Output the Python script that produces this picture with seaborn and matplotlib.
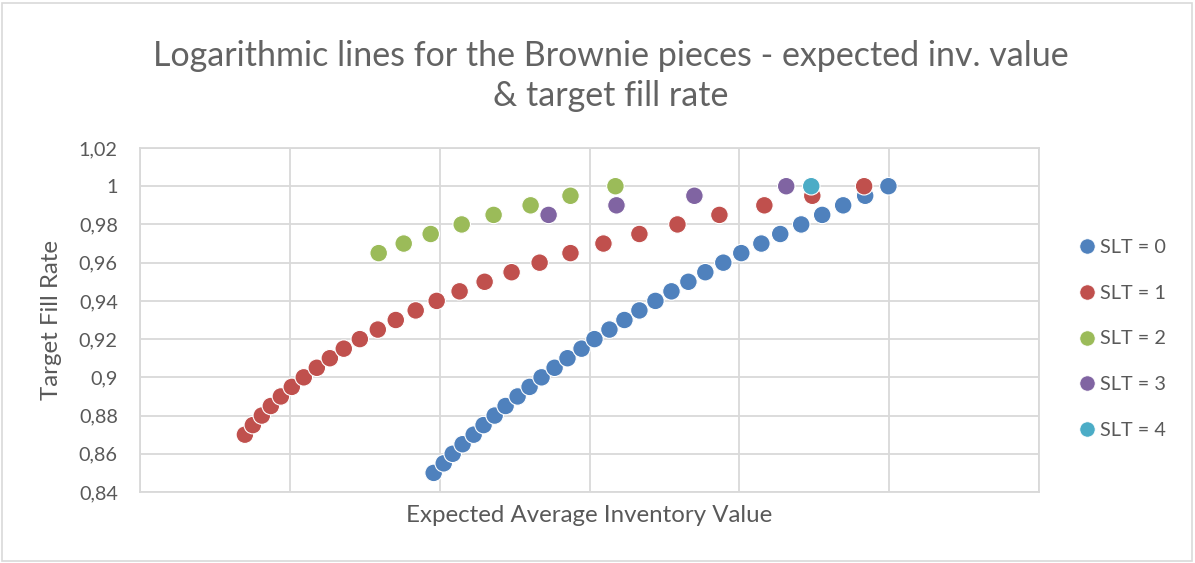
import matplotlib
matplotlib.use("Agg")
import matplotlib.pyplot as plt
from matplotlib.patches import Rectangle
from matplotlib.lines import Line2D
import seaborn as sns
import pandas as pd

# Expected average inventory value (x) and target fill rate (y) per SLT group
slt0_x = [1960, 2027, 2087, 2153, 2227, 2293, 2367, 2440, 2520, 2600, 2680,
          2767, 2853, 2947, 3033, 3133, 3233, 3333, 3440, 3547, 3660, 3773,
          3893, 4013, 4147, 4273, 4413, 4553, 4693, 4840, 4995]
slt0_y = [0.85, 0.855, 0.86, 0.865, 0.87, 0.875, 0.88, 0.885, 0.89, 0.895,
          0.90, 0.905, 0.91, 0.915, 0.92, 0.925, 0.93, 0.935, 0.94, 0.945,
          0.95, 0.955, 0.96, 0.965, 0.97, 0.975, 0.98, 0.985, 0.99, 0.995, 1.0]

slt1_x = [700, 753, 813, 873, 940, 1013, 1093, 1180, 1267, 1360, 1467, 1587,
          1707, 1840, 1980, 2133, 2300, 2480, 2667, 2873, 3093, 3333, 3587,
          3867, 4167, 4487, 4833]
slt1_y = [0.87, 0.875, 0.88, 0.885, 0.89, 0.895, 0.90, 0.905, 0.91, 0.915,
          0.92, 0.925, 0.93, 0.935, 0.94, 0.945, 0.95, 0.955, 0.96, 0.965,
          0.97, 0.975, 0.98, 0.985, 0.99, 0.995, 1.0]

slt2_x = [1593, 1760, 1940, 2147, 2360, 2607, 2873, 3173]
slt2_y = [0.965, 0.97, 0.975, 0.98, 0.985, 0.99, 0.995, 1.0]

slt3_x = [2727, 3180, 3700, 4313]
slt3_y = [0.985, 0.99, 0.995, 1.0]

slt4_x = [4480]
slt4_y = [1.0]

series_names = ["SLT = 0", "SLT = 1", "SLT = 2", "SLT = 3", "SLT = 4"]
series_colors = ["#4F81BD", "#C0504D", "#9BBB59", "#8064A2", "#4BACC6"]

y_ticks = [0.84, 0.86, 0.88, 0.90, 0.92, 0.94, 0.96, 0.98, 1.00, 1.02]
y_tick_labels = ["0,84", "0,86", "0,88", "0,9", "0,92", "0,94", "0,96",
                 "0,98", "1", "1,02"]
x_grid = [0, 1000, 2000, 3000, 4000, 5000, 6000]

title_text = ("Logarithmic lines for the Brownie pieces - expected inv. value\n"
              "& target fill rate")
x_label = "Expected Average Inventory Value"
y_label = "Target Fill Rate"

xs = [slt0_x, slt1_x, slt2_x, slt3_x, slt4_x]
ys = [slt0_y, slt1_y, slt2_y, slt3_y, slt4_y]
frames = [pd.DataFrame({"x": x, "y": y, "series": name})
          for x, y, name in zip(xs, ys, series_names)]
df = pd.concat(frames, ignore_index=True)

sns.set_style("white")
plt.rcParams["font.family"] = ["Lato", "DejaVu Sans"]

text_color = "#595959"
grid_color = "#D9D9D9"

fig = plt.figure(figsize=(11.95, 5.63), dpi=100)
ax = fig.add_axes([140 / 1195, 1 - 492 / 563, 899 / 1195, 344 / 563])

sns.scatterplot(data=df, x="x", y="y", hue="series", hue_order=series_names,
                palette=series_colors, s=160, edgecolor="white", linewidth=0.8,
                legend=False, ax=ax, zorder=3)

ax.set_xlim(x_grid[0], x_grid[-1])
ax.set_ylim(y_ticks[0], y_ticks[-1])
ax.set_xticks(x_grid)
ax.set_xticklabels([])
ax.set_yticks(y_ticks)
ax.set_yticklabels(y_tick_labels)
ax.tick_params(axis="both", length=0, labelsize=14.3, colors=text_color, pad=16)
ax.grid(True, color=grid_color, linewidth=1.3, zorder=0)
ax.set_axisbelow(True)
for side in ["top", "right", "left", "bottom"]:
    ax.spines[side].set_color(grid_color)
    ax.spines[side].set_linewidth(1.3)

ax.set_xlabel(x_label, fontsize=17.3, color=text_color, va="center")
ax.xaxis.set_label_coords(0.5, (492 - 515) / 344)
ax.set_ylabel(y_label, fontsize=17.3, color=text_color, va="center")
ax.yaxis.set_label_coords((52 - 140) / 899, 0.5)

fig.text(611 / 1195, 1 - 76 / 563, title_text, ha="center", va="center",
         fontsize=24.5, color="#636363", linespacing=1.28)

handles = [Line2D([0], [0], marker="o", linestyle="", markersize=11,
                  markerfacecolor=c, markeredgecolor="white",
                  markeredgewidth=0.5, label=n)
           for n, c in zip(series_names, series_colors)]
fig.legend(handles=handles, loc="center left",
           bbox_to_anchor=(1077 / 1195, 1 - 339 / 563), frameon=False,
           fontsize=14.3, labelcolor=text_color, handletextpad=0.15,
           labelspacing=1.45, handlelength=1.0, borderpad=0, borderaxespad=0)

fig.patches.append(Rectangle((2 / 1195, 2 / 563), 1190 / 1195, 558 / 563,
                             transform=fig.transFigure, fill=False,
                             edgecolor=grid_color, linewidth=1.2))

fig.savefig("out.png", dpi=100, facecolor="white")
